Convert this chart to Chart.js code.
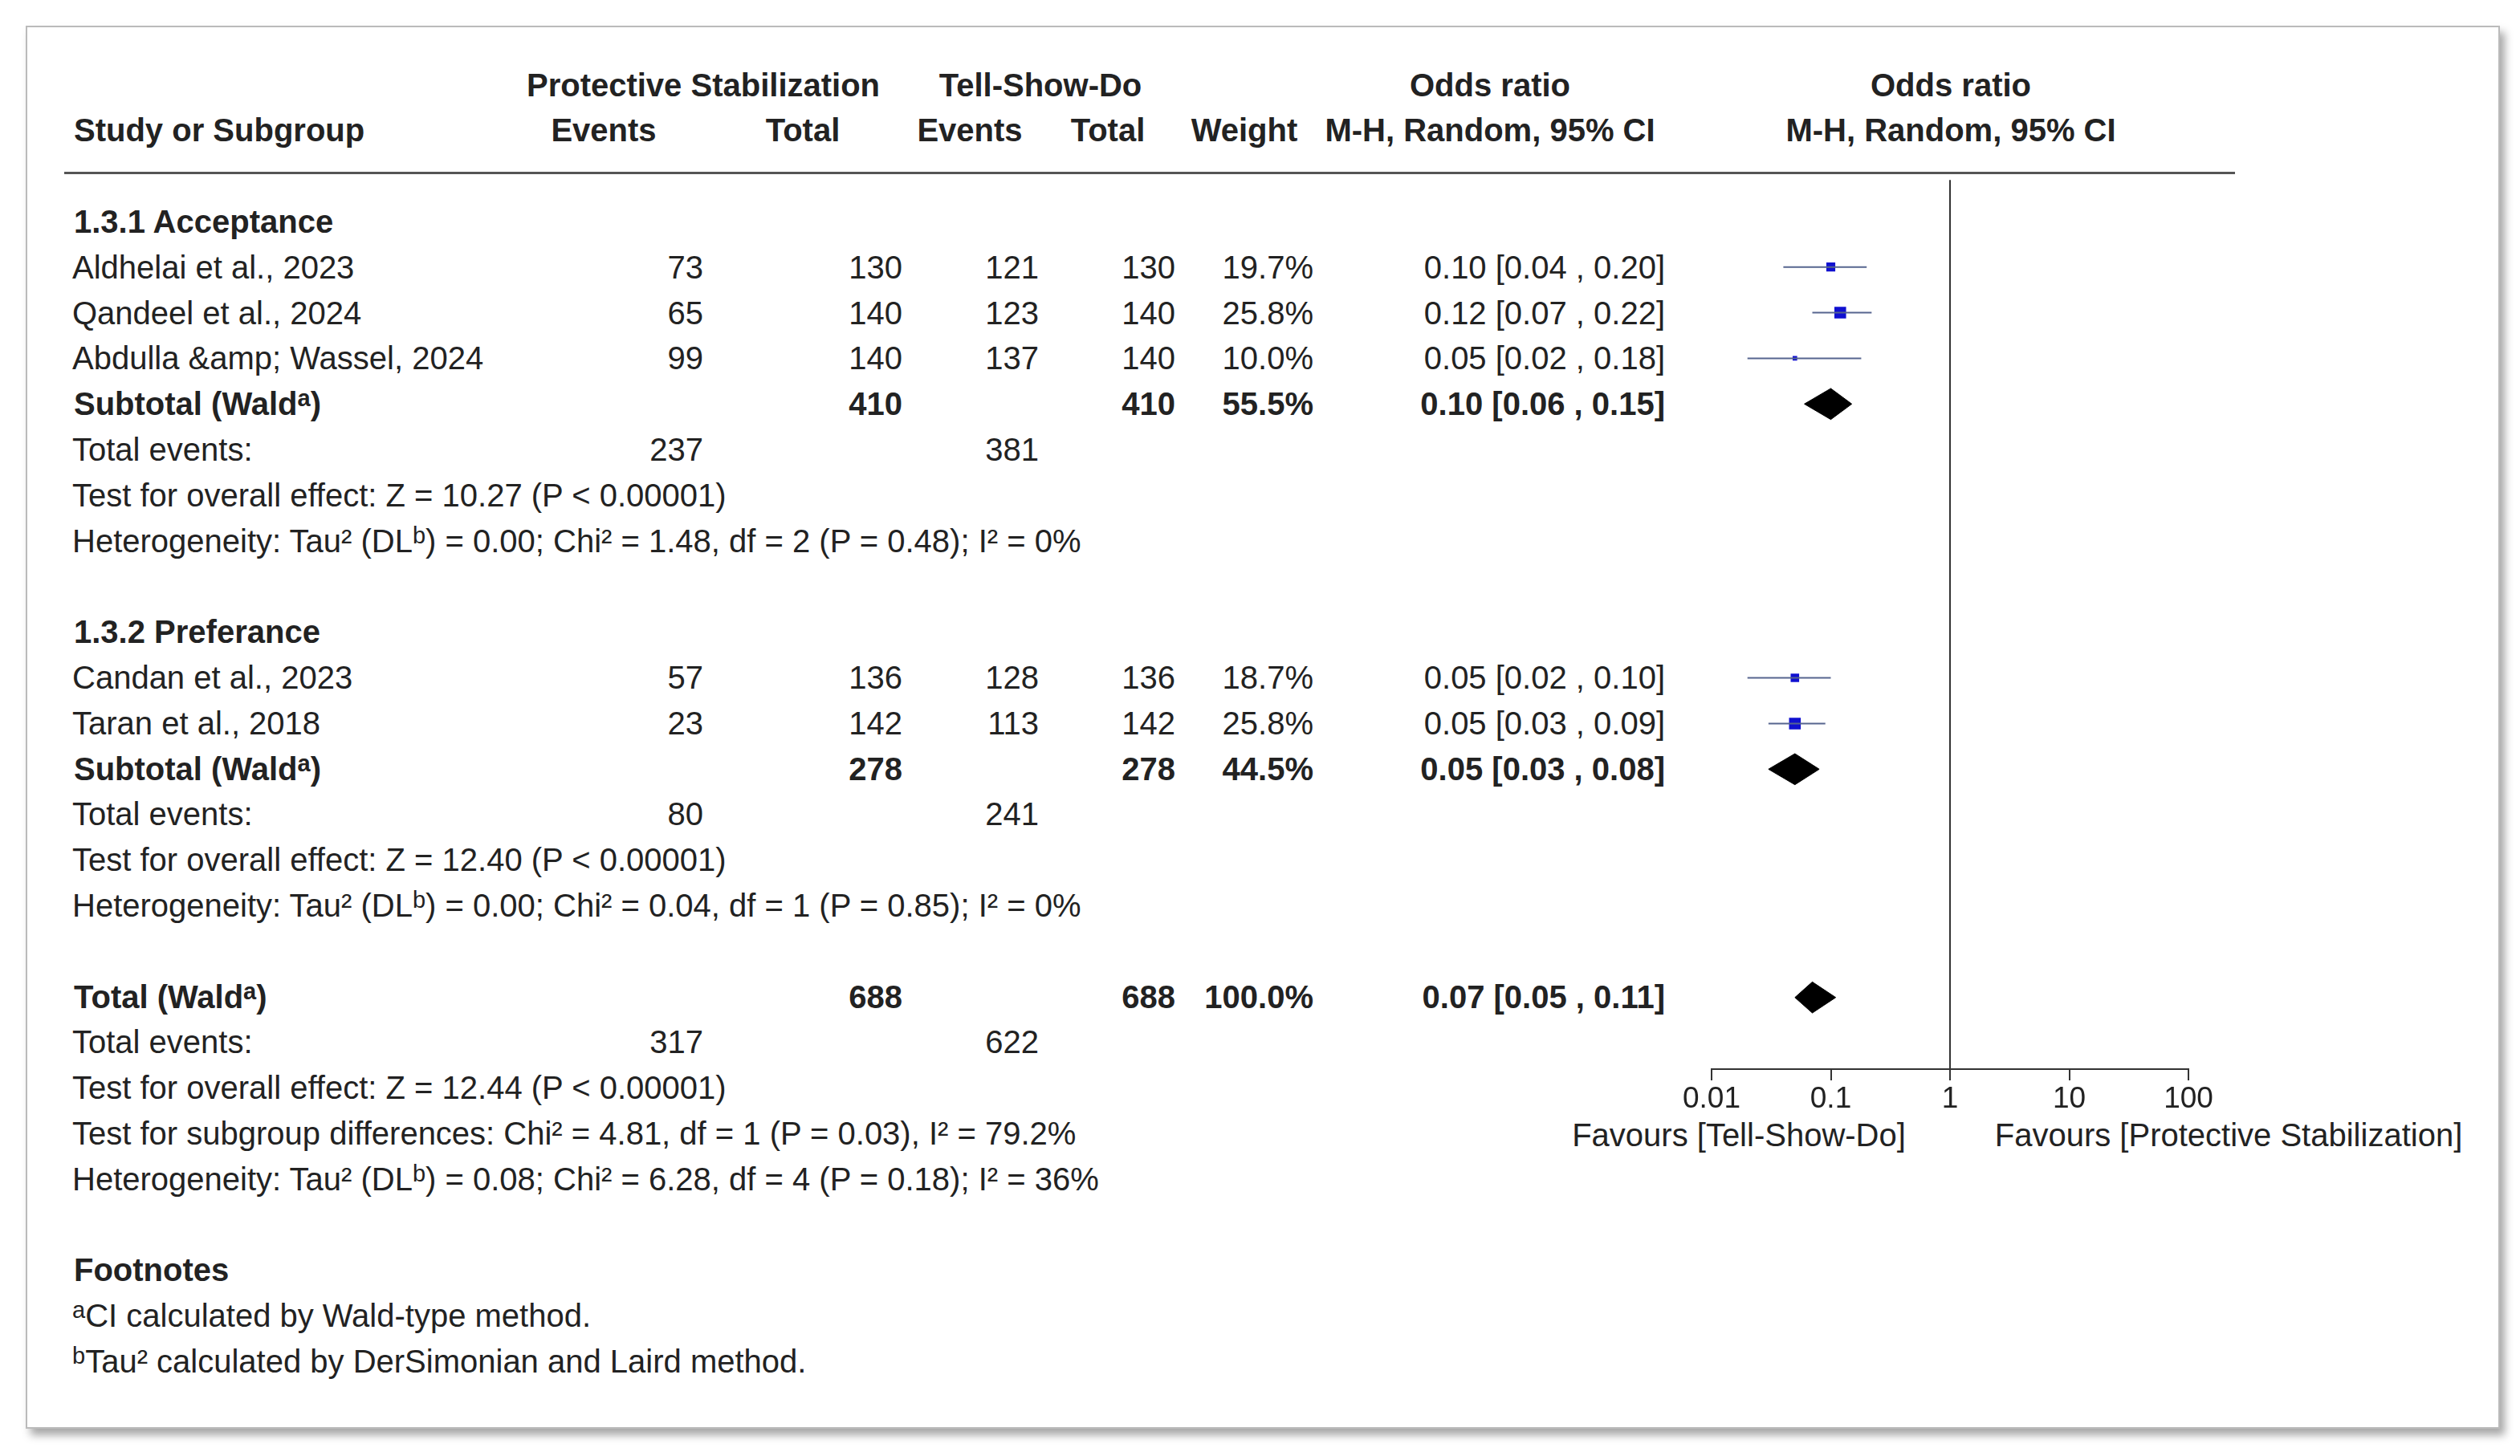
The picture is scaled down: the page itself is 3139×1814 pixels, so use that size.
<!DOCTYPE html>
<html><head><meta charset="utf-8">
<script src="https://cdn.jsdelivr.net/npm/chart.js@4/dist/chart.umd.min.js"></script>
<style>
body{margin:0;background:#fff;width:3139px;height:1814px;position:relative;overflow:hidden;font-family:"Liberation Sans",Arial,sans-serif;color:#222}
#frame{position:absolute;left:32px;top:32px;width:3078px;height:1744px;border:2px solid #bbb;box-shadow:6px 8px 10px rgba(0,0,0,0.35);background:#fff}
.t{position:absolute;font-size:40px;white-space:nowrap;transform:translateY(-50%)}
.b{font-weight:bold}
.r{transform:translate(-100%,-50%)}
.c{transform:translate(-50%,-50%)}
sup{font-size:29px;vertical-align:11px;line-height:0}
#hline{position:absolute;left:80px;top:214px;width:2704px;height:3px;background:#555}
#plot{position:absolute;left:2000px;top:214px}
</style></head><body>
<div id="frame"></div>
<div id="hline"></div>
<div id="txt"></div>
<canvas id="plot" width="900" height="1200"></canvas>
<script>
// study rows
var studyNames = ["Aldhelai et al., 2023", "Qandeel et al., 2024", "Abdulla &amp;amp; Wassel, 2024", "Candan et al., 2023", "Taran et al., 2018"];
var studyRows = [1, 2, 3, 10, 11];
var psEvents = [73, 65, 99, 57, 23];
var psTotal = [130, 140, 140, 136, 142];
var tsdEvents = [121, 123, 137, 128, 113];
var tsdTotal = [130, 140, 140, 136, 142];
var weights = [19.7, 25.8, 10.0, 18.7, 25.8];
var orEst = [0.10, 0.12, 0.05, 0.05, 0.05];
var orLo = [0.04, 0.07, 0.02, 0.02, 0.03];
var orHi = [0.20, 0.22, 0.18, 0.10, 0.09];
var orLabels = ["0.10 [0.04 , 0.20]", "0.12 [0.07 , 0.22]", "0.05 [0.02 , 0.18]", "0.05 [0.02 , 0.10]", "0.05 [0.03 , 0.09]"];
// pooled rows
var poolNames = ["Subtotal (Wald<sup>a</sup>)", "Subtotal (Wald<sup>a</sup>)", "Total (Wald<sup>a</sup>)"];
var poolRows = [4, 12, 17];
var poolPsTotal = [410, 278, 688];
var poolTsdTotal = [410, 278, 688];
var poolWeight = ["55.5%", "44.5%", "100.0%"];
var poolEst = [0.10, 0.05, 0.07];
var poolLo = [0.06, 0.03, 0.05];
var poolHi = [0.15, 0.08, 0.11];
var poolLabels = ["0.10 [0.06 , 0.15]", "0.05 [0.03 , 0.08]", "0.07 [0.05 , 0.11]"];
var eventRows = [5, 13, 18];
var eventPs = [237, 80, 317];
var eventTsd = [381, 241, 622];
var xTicks = [0.01, 0.1, 1, 10, 100];

var notes = [
  [0, "1.3.1 Acceptance", true], [6, "Test for overall effect: Z = 10.27 (P &lt; 0.00001)"],
  [7, "Heterogeneity: Tau² (DL<sup>b</sup>) = 0.00; Chi² = 1.48, df = 2 (P = 0.48); I² = 0%"],
  [9, "1.3.2 Preferance", true], [14, "Test for overall effect: Z = 12.40 (P &lt; 0.00001)"],
  [15, "Heterogeneity: Tau² (DL<sup>b</sup>) = 0.00; Chi² = 0.04, df = 1 (P = 0.85); I² = 0%"],
  [19, "Test for overall effect: Z = 12.44 (P &lt; 0.00001)"],
  [20, "Test for subgroup differences: Chi² = 4.81, df = 1 (P = 0.03), I² = 79.2%"],
  [21, "Heterogeneity: Tau² (DL<sup>b</sup>) = 0.08; Chi² = 6.28, df = 4 (P = 0.18); I² = 36%"],
  [23, "Footnotes", true], [24, "<sup>a</sup>CI calculated by Wald-type method."],
  [25, "<sup>b</sup>Tau² calculated by DerSimonian and Laird method."]
];

var rowY = function (r) { return 276 + r * 56.8; };
var html = [];
function put(x, y, s, cls) { html.push('<div class="t ' + (cls || '') + '" style="left:' + x + 'px;top:' + y + 'px">' + s + '</div>'); }
put(876, 106, "Protective Stabilization", "b c"); put(1296, 106, "Tell-Show-Do", "b c");
put(1856, 106, "Odds ratio", "b c"); put(2430, 106, "Odds ratio", "b c");
put(92, 162, "Study or Subgroup", "b"); put(752, 162, "Events", "b c"); put(1000, 162, "Total", "b c");
put(1208, 162, "Events", "b c"); put(1380, 162, "Total", "b c"); put(1550, 162, "Weight", "b c");
put(1856, 162, "M-H, Random, 95% CI", "b c"); put(2430, 162, "M-H, Random, 95% CI", "b c");
studyNames.forEach(function (n, i) {
  var y = rowY(studyRows[i]);
  put(90, y, n); put(876, y, psEvents[i], "r"); put(1124, y, psTotal[i], "r");
  put(1294, y, tsdEvents[i], "r"); put(1464, y, tsdTotal[i], "r");
  put(1636, y, weights[i].toFixed(1) + "%", "r"); put(2074, y, orLabels[i], "r");
});
poolNames.forEach(function (n, i) {
  var y = rowY(poolRows[i]);
  put(92, y, n, "b"); put(1124, y, poolPsTotal[i], "b r"); put(1464, y, poolTsdTotal[i], "b r");
  put(1636, y, poolWeight[i], "b r"); put(2074, y, poolLabels[i], "b r");
  var ey = rowY(eventRows[i]);
  put(90, ey, "Total events:"); put(876, ey, eventPs[i], "r"); put(1294, ey, eventTsd[i], "r");
});
notes.forEach(function (n) { put(n[2] ? 92 : 90, rowY(n[0]), n[1], n[2] ? "b" : ""); });
put(2166, 1414, "Favours [Tell-Show-Do]", "c"); put(2776, 1414, "Favours [Protective Stabilization]", "c");
document.getElementById('txt').innerHTML = html.join('');

var yMin = -0.905, yMax = 18.57;
var datasets = [];
datasets.push({ type: 'line', data: [{ x: 1, y: yMin - 0.2 }, { x: 1, y: yMax }], borderColor: '#333', borderWidth: 2, pointRadius: 0 });
studyRows.forEach(function (r, i) {
  datasets.push({ type: 'line', data: [{ x: orLo[i], y: r }, { x: orHi[i], y: r }], borderColor: '#56658f', borderWidth: 2, pointRadius: 0 });
});
datasets.push({ type: 'scatter', data: studyRows.map(function (r, i) { return { x: orEst[i], y: r }; }),
  pointStyle: 'rect', backgroundColor: '#1010d0', borderColor: '#1010d0', borderWidth: 0,
  pointRadius: weights.map(function (w) { return w * 0.4; }) });
poolRows.forEach(function (r, i) {
  datasets.push({ type: 'line', fill: 'shape', backgroundColor: '#000', borderColor: '#000', borderWidth: 1, pointRadius: 0, tension: 0,
    data: [{ x: poolLo[i], y: r }, { x: poolEst[i], y: r - 0.34 }, { x: poolHi[i], y: r }, { x: poolEst[i], y: r + 0.34 }, { x: poolLo[i], y: r }] });
});

new Chart(document.getElementById('plot'), {
  type: 'scatter',
  data: { datasets: datasets },
  options: {
    responsive: false, animation: false, devicePixelRatio: 1,
    layout: { padding: { left: 132, right: 174, top: 0, bottom: 0 } },
    plugins: { legend: { display: false }, tooltip: { enabled: false } },
    scales: {
      x: {
        type: 'logarithmic', min: 0.01, max: 100,
        afterBuildTicks: function (s) { s.ticks = xTicks.map(function (v) { return { value: v }; }); },
        afterFit: function (s) { s.height = 82; },
        ticks: { color: '#222', font: { size: 37, family: 'Liberation Sans' }, padding: 2, maxRotation: 0,
          callback: function (v) { return String(v); } },
        grid: { drawOnChartArea: false, drawTicks: true, tickLength: 14, color: '#333', lineWidth: 2 },
        border: { color: '#333', width: 2 }
      },
      y: { type: 'linear', min: yMin, max: yMax, reverse: true, clip: false, display: false }
    }
  }
});
</script>
</body></html>
